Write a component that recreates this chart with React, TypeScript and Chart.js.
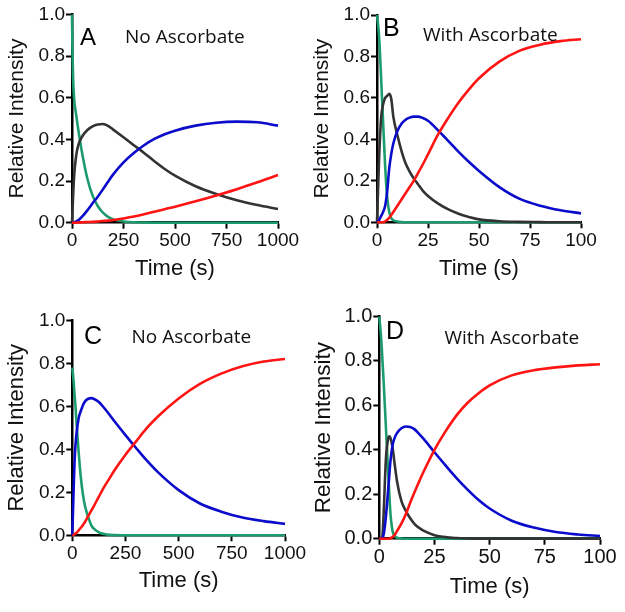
import React, { useEffect, useRef } from "react";
import { Chart, registerables } from "chart.js";

Chart.register(...registerables);

// ---------- Panel A (No Ascorbate, 0-1000 s) ----------
const timeA = [0, 2, 5, 10, 20, 30, 50, 75, 100, 125, 150, 175, 200, 250, 300, 350, 400, 450, 500, 600, 700, 800, 900, 1000];
const greenA = [1.0, 0.85, 0.7, 0.6, 0.52, 0.45, 0.33, 0.21, 0.13, 0.08, 0.048, 0.028, 0.016, 0.006, 0.002, 0.001, 0, 0, 0, 0, 0, 0, 0, 0];
const blackA = [0, 0.05, 0.12, 0.22, 0.32, 0.37, 0.415, 0.445, 0.462, 0.471, 0.474, 0.465, 0.447, 0.41, 0.372, 0.335, 0.295, 0.258, 0.226, 0.175, 0.138, 0.108, 0.085, 0.066];
const blueA = [0, 0, 0.001, 0.002, 0.006, 0.011, 0.03, 0.06, 0.093, 0.125, 0.16, 0.197, 0.232, 0.29, 0.335, 0.372, 0.402, 0.425, 0.442, 0.466, 0.48, 0.485, 0.482, 0.466];
const redA = [0, 0, 0, 0, 0, 0.001, 0.002, 0.003, 0.004, 0.006, 0.008, 0.01, 0.013, 0.02, 0.03, 0.041, 0.053, 0.065, 0.077, 0.103, 0.131, 0.161, 0.194, 0.229];

// ---------- Panel B (With Ascorbate, 0-100 s) ----------
const timeB = [0, 1, 2, 3, 4, 5, 6, 7, 8, 10, 12, 14, 16, 18, 20, 22.5, 25, 30, 35, 40, 45, 50, 60, 70, 80, 90, 100];
const greenB = [1.0, 0.9, 0.7, 0.48, 0.27, 0.12, 0.05, 0.02, 0.01, 0.004, 0.001, 0, 0, 0, 0, 0, 0, 0, 0, 0, 0, 0, 0, 0, 0, 0, 0];
const blackB = [0, 0.3, 0.5, 0.57, 0.6, 0.61, 0.62, 0.595, 0.51, 0.42, 0.345, 0.285, 0.245, 0.212, 0.185, 0.152, 0.127, 0.09, 0.062, 0.041, 0.026, 0.014, 0.005, 0.002, 0.001, 0, 0];
const blueB = [0, 0.01, 0.03, 0.05, 0.08, 0.15, 0.26, 0.33, 0.38, 0.44, 0.475, 0.495, 0.505, 0.51, 0.51, 0.503, 0.49, 0.443, 0.392, 0.34, 0.292, 0.248, 0.17, 0.113, 0.08, 0.058, 0.043];
const redB = [0, 0, 0, 0, 0.005, 0.012, 0.022, 0.035, 0.05, 0.08, 0.11, 0.14, 0.17, 0.2, 0.235, 0.28, 0.328, 0.425, 0.505, 0.578, 0.64, 0.695, 0.775, 0.828, 0.857, 0.874, 0.883];

// ---------- Panel C (No Ascorbate, 0-1000 s) ----------
const timeC = [0, 2, 5, 10, 15, 20, 30, 40, 50, 60, 75, 90, 100, 125, 150, 175, 200, 250, 300, 350, 400, 500, 600, 700, 800, 900, 1000];
const greenC = [0.78, 0.76, 0.73, 0.66, 0.6, 0.52, 0.385, 0.27, 0.19, 0.135, 0.085, 0.045, 0.032, 0.014, 0.006, 0.002, 0.001, 0, 0, 0, 0, 0, 0, 0, 0, 0, 0];
const blueC = [0, 0.07, 0.17, 0.33, 0.42, 0.475, 0.545, 0.578, 0.605, 0.623, 0.635, 0.638, 0.635, 0.62, 0.592, 0.561, 0.528, 0.466, 0.406, 0.348, 0.296, 0.21, 0.148, 0.11, 0.083, 0.066, 0.053];
const redC = [0, 0, 0.001, 0.005, 0.008, 0.012, 0.023, 0.035, 0.048, 0.063, 0.09, 0.116, 0.133, 0.18, 0.225, 0.265, 0.305, 0.375, 0.437, 0.498, 0.55, 0.636, 0.704, 0.752, 0.786, 0.808, 0.82];

// ---------- Panel D (With Ascorbate, 0-100 s) ----------
const timeD = [0, 1, 1.5, 2, 3, 4, 4.5, 5, 6, 7, 8, 10, 12, 14, 16, 18, 20, 25, 30, 35, 40, 45, 50, 60, 70, 80, 90, 100];
const greenD = [1.0, 0.88, 0.79, 0.7, 0.5, 0.3, 0.21, 0.12, 0.035, 0.012, 0.005, 0.001, 0, 0, 0, 0, 0, 0, 0, 0, 0, 0, 0, 0, 0, 0, 0, 0];
const blackD = [0, 0, 0.02, 0.12, 0.36, 0.45, 0.461, 0.455, 0.41, 0.333, 0.26, 0.17, 0.125, 0.092, 0.066, 0.049, 0.036, 0.016, 0.007, 0.003, 0.001, 0, 0, 0, 0, 0, 0, 0];
const blueD = [0, 0, 0.005, 0.02, 0.1, 0.22, 0.28, 0.345, 0.42, 0.455, 0.475, 0.497, 0.505, 0.503, 0.492, 0.472, 0.45, 0.389, 0.33, 0.273, 0.221, 0.174, 0.136, 0.081, 0.05, 0.03, 0.019, 0.012];
const redD = [0, 0, 0, 0, 0, 0, 0, 0.002, 0.008, 0.018, 0.034, 0.068, 0.11, 0.162, 0.21, 0.256, 0.3, 0.4, 0.483, 0.555, 0.612, 0.655, 0.69, 0.735, 0.758, 0.771, 0.78, 0.785];

const yTicks = [0, 0.2, 0.4, 0.6, 0.8, 1.0];

const COLORS = {
  green: "#1c9c6c",
  black: "#333333",
  blue: "#0b0bcc",
  red: "#ff1414",
};

type Series = { color: string; values: number[] };

type PanelCfg = {
  left: number; top: number; w: number; h: number;
  yW: number; padT: number; padR: number; padB: number; xH: number;
  xMax: number; xStep: number; tickSize: number;
  yTitleSize: number; yTitlePad: number;
  time: number[]; series: Series[];
};

const panels: PanelCfg[] = [
  {
    left: 0, top: 0, w: 312, h: 300,
    yW: 72, padT: 14.4, padR: 34, padB: 19.9, xH: 57.4,
    xMax: 1000, xStep: 250, tickSize: 19, yTitleSize: 21, yTitlePad: 7.2,
    time: timeA,
    series: [
      { color: COLORS.red, values: redA },
      { color: COLORS.blue, values: blueA },
      { color: COLORS.black, values: blackA },
      { color: COLORS.green, values: greenA },
    ],
  },
  {
    left: 312, top: 0, w: 313, h: 300,
    yW: 65, padT: 15, padR: 44, padB: 20, xH: 57.7,
    xMax: 100, xStep: 25, tickSize: 19, yTitleSize: 21, yTitlePad: 0.2,
    time: timeB,
    series: [
      { color: COLORS.red, values: redB },
      { color: COLORS.blue, values: blueB },
      { color: COLORS.black, values: blackB },
      { color: COLORS.green, values: greenB },
    ],
  },
  {
    left: 0, top: 300, w: 312, h: 312,
    yW: 72.3, padT: 20.3, padR: 27, padB: 20.3, xH: 56.4,
    xMax: 1000, xStep: 250, tickSize: 19, yTitleSize: 22, yTitlePad: 5.7,
    time: timeC,
    series: [
      { color: COLORS.red, values: redC },
      { color: COLORS.blue, values: blueC },
      { color: COLORS.green, values: greenC },
    ],
  },
  {
    left: 312, top: 300, w: 313, h: 312,
    yW: 67.3, padT: 16.5, padR: 25, padB: 13.6, xH: 59.7,
    xMax: 100, xStep: 25, tickSize: 20, yTitleSize: 22.5, yTitlePad: 0.15,
    time: timeD,
    series: [
      { color: COLORS.red, values: redD },
      { color: COLORS.blue, values: blueD },
      { color: COLORS.black, values: blackD },
      { color: COLORS.green, values: greenD },
    ],
  },
];

const labels = [
  { letter: "A", text: "No Ascorbate", lx: 80, ly: 25.2, ls: 24, tx: 125, ty: 26.7 },
  { letter: "B", text: "With Ascorbate", lx: 383, ly: 15, ls: 25, tx: 423, ty: 25 },
  { letter: "C", text: "No Ascorbate", lx: 84, ly: 323.4, ls: 25, tx: 131.5, ty: 326.7 },
  { letter: "D", text: "With Ascorbate", lx: 386, ly: 318.4, ls: 25, tx: 444.5, ty: 328.4 },
];

const FONT = "'Liberation Sans', Arial, sans-serif";

function Panel({ cfg }: { cfg: PanelCfg }) {
  const ref = useRef<HTMLCanvasElement | null>(null);
  useEffect(() => {
    if (!ref.current) return;
    const datasets = cfg.series.map((s) => ({
      data: cfg.time.map((t, i) => ({ x: t, y: s.values[i] })),
      borderColor: s.color,
      backgroundColor: s.color,
      borderWidth: 2.6,
      pointRadius: 0,
      fill: false,
      cubicInterpolationMode: "monotone" as const,
      clip: 4,
    }));
    const chart = new Chart(ref.current, {
      type: "line",
      data: { datasets },
      options: {
        animation: false,
        responsive: false,
        devicePixelRatio: 1,
        layout: { padding: { left: 0, right: cfg.padR, top: cfg.padT, bottom: cfg.padB } },
        plugins: { legend: { display: false }, tooltip: { enabled: false } },
        scales: {
          x: {
            type: "linear",
            min: 0,
            max: cfg.xMax,
            afterFit: (s: any) => { s.height = cfg.xH; },
            ticks: {
              stepSize: cfg.xStep,
              autoSkip: false,
              maxRotation: 0,
              padding: 1,
              color: "#111",
              font: { family: FONT, size: cfg.tickSize },
              callback: (v: any) => String(v),
            },
            grid: { display: true, drawOnChartArea: false, drawTicks: true, tickLength: 6, tickWidth: 2, tickColor: "#000" },
            border: { display: true, color: "#000", width: 2.5 },
            title: {
              display: true,
              text: "Time (s)",
              color: "#111",
              font: { family: FONT, size: 22, lineHeight: 1 },
              padding: { top: 0, bottom: 0 },
            },
          },
          y: {
            type: "linear",
            min: 0,
            max: 1,
            afterFit: (s: any) => { s.width = cfg.yW; },
            afterBuildTicks: (s: any) => { s.ticks = yTicks.map((v) => ({ value: v })); },
            ticks: {
              padding: 1,
              color: "#111",
              font: { family: FONT, size: cfg.tickSize },
              callback: (v: any) => Number(v).toFixed(1),
            },
            grid: { display: true, drawOnChartArea: false, drawTicks: true, tickLength: 6, tickWidth: 2, tickColor: "#000" },
            border: { display: true, color: "#000", width: 2.5 },
            title: {
              display: true,
              text: "Relative Intensity",
              color: "#111",
              font: { family: FONT, size: cfg.yTitleSize, lineHeight: 1 },
              padding: { top: cfg.yTitlePad, bottom: 0 },
            },
          },
        },
      } as any,
    });
    return () => chart.destroy();
  }, [cfg]);
  return (
    <canvas
      ref={ref}
      width={cfg.w}
      height={cfg.h}
      style={{ position: "absolute", left: cfg.left, top: cfg.top, width: cfg.w, height: cfg.h }}
    />
  );
}

export default function App() {
  return (
    <div style={{ position: "absolute", left: 0, top: 0, width: 625, height: 612, background: "#fff", overflow: "hidden" }}>
      {panels.map((p, i) => (
        <Panel key={i} cfg={p} />
      ))}
      {labels.map((l, i) => (
        <React.Fragment key={"l" + i}>
          <div style={{ position: "absolute", left: l.lx, top: l.ly, fontFamily: FONT, fontSize: l.ls, lineHeight: 1, color: "#000", whiteSpace: "nowrap" }}>
            {l.letter}
          </div>
          <div style={{ position: "absolute", left: l.tx, top: l.ty, fontFamily: "'Open Sans', sans-serif", fontSize: 19, lineHeight: 1, color: "#111", whiteSpace: "nowrap" }}>
            {l.text}
          </div>
        </React.Fragment>
      ))}
    </div>
  );
}
